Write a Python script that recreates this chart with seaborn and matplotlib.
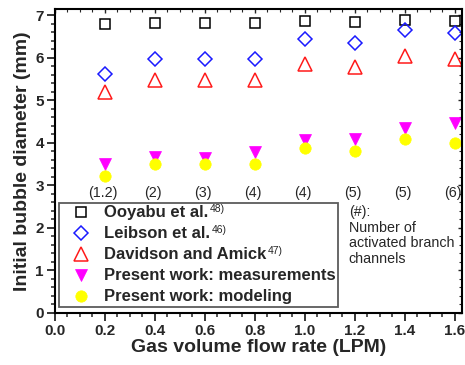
import numpy as np
import pandas as pd
import matplotlib
matplotlib.use("Agg")
import matplotlib.pyplot as plt
import seaborn as sns
from matplotlib.ticker import MultipleLocator

# ---- data ----
flow = [0.2, 0.4, 0.6, 0.8, 1.0, 1.2, 1.4, 1.6]
ooyabu = [6.78, 6.81, 6.81, 6.81, 6.85, 6.84, 6.88, 6.87]
leibson = [5.61, 5.96, 5.96, 5.96, 6.43, 6.34, 6.66, 6.57]
davidson = [5.20, 5.48, 5.48, 5.48, 5.84, 5.77, 6.04, 5.96]
measured = [3.50, 3.66, 3.65, 3.78, 4.06, 4.10, 4.35, 4.46]
modeled = [3.23, 3.51, 3.51, 3.51, 3.88, 3.81, 4.08, 4.00]
channels = ["(1.2)", "(2)", "(3)", "(4)", "(4)", "(5)", "(5)", "(6)"]
channel_label_y = 2.82
labels = ["Ooyabu et al.", "Leibson et al.", "Davidson and Amick",
          "Present work: measurements", "Present work: modeling"]
refs = ["48)", "46)", "47)", "", ""]
note = "(#):\nNumber of\nactivated branch\nchannels"

sns.set_theme(style="ticks")
plt.rcParams['font.family'] = ['Liberation Sans', 'DejaVu Sans']

fig = plt.figure(figsize=(4.65, 3.65), dpi=100)
ax = fig.add_axes([0.118, 0.1425, 0.8755, 0.8325])

styles = [
    dict(marker='s', color='black', mfc='none', mec='black', ms=6.6, mew=1.1),
    dict(marker='D', color='#1a1aff', mfc='none', mec='#1a1aff', ms=7.0, mew=1.1),
    dict(marker='^', color='#ff1a1a', mfc='none', mec='#ff1a1a', ms=9.5, mew=1.1),
    dict(marker='v', color='#ff00ff', mfc='#ff00ff', mec='#ff00ff', ms=9.0, mew=0.5),
    dict(marker='o', color='#ffff00', mfc='#ffff00', mec='#ffff00', ms=8.2, mew=0.5),
]
series = [ooyabu, leibson, davidson, measured, modeled]
for vals, lab, st in zip(series, labels, styles):
    df = pd.DataFrame({"x": flow, "y": vals})
    sns.lineplot(data=df, x="x", y="y", ax=ax, linestyle='none',
                 errorbar=None, label=lab, **st)

for xv, t in zip(flow, channels):
    ax.annotate(t, (xv, channel_label_y), xytext=(-1.5, 0), textcoords='offset points',
                ha='center', va='center', fontsize=10.3)

ax.text(0.722, 0.355, note, transform=ax.transAxes, ha='left', va='top',
        fontsize=10.3, linespacing=1.15)

ax.set_xlim(0, 1.628)
ax.set_ylim(0, 7.14)
ax.xaxis.set_major_locator(MultipleLocator(0.2))
ax.xaxis.set_minor_locator(MultipleLocator(0.05))
ax.yaxis.set_major_locator(MultipleLocator(1))
ax.yaxis.set_minor_locator(MultipleLocator(0.2))
ax.set_xticklabels([f"{v:.1f}" for v in ax.get_xticks()])
ax.tick_params(which='major', direction='out', length=6, width=1.3, labelsize=11, pad=2)
ax.tick_params(which='minor', direction='out', length=3, width=1.1)
for lab in ax.get_xticklabels() + ax.get_yticklabels():
    lab.set_fontweight('bold')
for sp in ax.spines.values():
    sp.set_linewidth(1.5)
    sp.set_visible(True)
    sp.set_color('black')

# inward ticks on top and right
secx = ax.secondary_xaxis('top')
secx.xaxis.set_major_locator(MultipleLocator(0.2))
secx.xaxis.set_minor_locator(MultipleLocator(0.05))
secx.tick_params(which='major', direction='in', length=3, width=1.0, labeltop=False)
secx.tick_params(which='minor', direction='in', length=2, width=0.8)
secy = ax.secondary_yaxis('right')
secy.yaxis.set_major_locator(MultipleLocator(1))
secy.yaxis.set_minor_locator(MultipleLocator(0.2))
secy.tick_params(which='major', direction='in', length=3, width=1.0, labelright=False)
secy.tick_params(which='minor', direction='in', length=2, width=0.8)

ax.set_xlabel("Gas volume flow rate (LPM)", fontsize=14, fontweight='bold', labelpad=1)
ax.set_ylabel("Initial bubble diameter (mm)", fontsize=14, fontweight='bold', labelpad=3)

leg = ax.legend(loc='upper left', bbox_to_anchor=(0.01, 0.362), borderaxespad=0,
                numpoints=1, fancybox=False, frameon=True, edgecolor='#333333',
                prop={'size': 12.0, 'weight': 'bold'}, handlelength=2.3,
                handletextpad=0.27, borderpad=0.15, labelspacing=0.36)
leg.get_frame().set_linewidth(1.3)

# superscript reference numbers after the legend labels
fig.canvas.draw()
renderer = fig.canvas.get_renderer()
inv = fig.transFigure.inverted()
for txt, ref in zip(leg.get_texts(), refs):
    if not ref:
        continue
    bb = txt.get_window_extent(renderer)
    x0, y0 = inv.transform((bb.x1 + 1, bb.y1 + 1))
    fig.text(x0, y0, ref, fontsize=7.5, va='top', ha='left', zorder=10)

fig.savefig("out.png", dpi=100)
